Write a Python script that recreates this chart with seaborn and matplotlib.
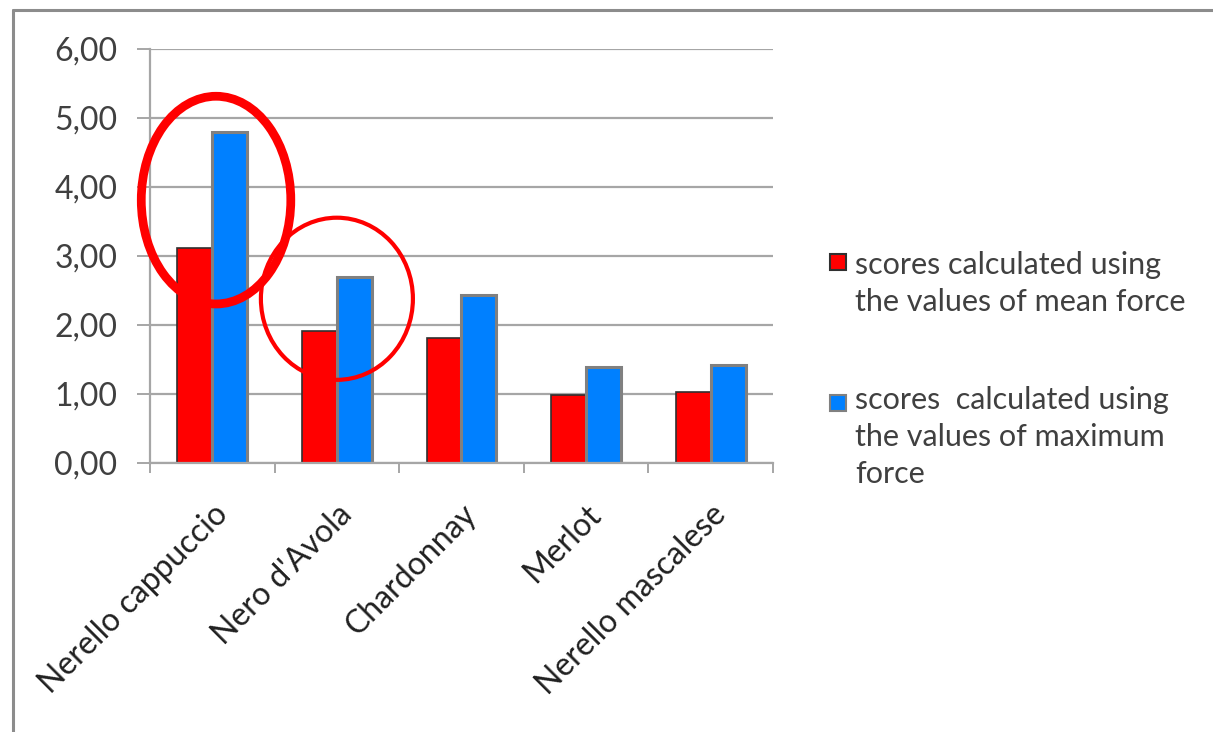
import numpy as np
import pandas as pd
import matplotlib
matplotlib.use("Agg")
import matplotlib.pyplot as plt
from matplotlib.patches import Ellipse, Rectangle
from matplotlib.lines import Line2D
from matplotlib.ticker import FuncFormatter, MultipleLocator
import seaborn as sns

# data
cultivars = ["Nerello cappuccio", "Nero d'Avola", "Chardonnay", "Merlot", "Nerello mascalese"]
mean_force = [3.12, 1.91, 1.81, 0.99, 1.03]
max_force = [4.80, 2.70, 2.43, 1.39, 1.42]
series_labels = ["scores calculated using\nthe values of mean force",
                 "scores  calculated using\nthe values of maximum\nforce"]
colors = ["#FF0000", "#0080FF"]
edge_colors = ["#303030", "#808080"]

df = pd.DataFrame({
    "cultivar": cultivars * 2,
    "score": mean_force + max_force,
    "series": [series_labels[0]] * len(cultivars) + [series_labels[1]] * len(cultivars),
})

sns.set_style("white")
plt.rcParams["font.family"] = ["Lato", "DejaVu Sans"]
text_color = "#404040"
grid_color = "#a6a6a6"
W, H = 1213, 732

fig = plt.figure(figsize=(W / 100, H / 100), dpi=100)
ax = fig.add_axes([150 / W, 1 - 463 / H, (773 - 150) / W, (463 - 49) / H])

sns.barplot(data=df, x="cultivar", y="score", hue="series", order=cultivars,
            hue_order=series_labels, palette=colors, width=0.56, ax=ax,
            legend=False, saturation=1)

# bar edges: dark thin on red, grey thick on blue
for bar in ax.containers[0]:
    bar.set_edgecolor(edge_colors[0])
    bar.set_linewidth(1.2)
for bar in ax.containers[1]:
    bar.set_edgecolor(edge_colors[1])
    bar.set_linewidth(2.2)

ax.set_ylim(0, 6)
ax.set_xlim(-0.5, len(cultivars) - 0.5)
ax.yaxis.set_major_locator(MultipleLocator(1))
ax.yaxis.set_major_formatter(FuncFormatter(lambda v, p: f"{v:.2f}".replace(".", ",")))
ax.grid(axis="y", color=grid_color, linewidth=1.6)
ax.set_axisbelow(True)
ax.set_xlabel("")
ax.set_ylabel("")

for s in ["top", "right"]:
    ax.spines[s].set_visible(False)
for s in ["left", "bottom"]:
    ax.spines[s].set_color(grid_color)
    ax.spines[s].set_linewidth(1.6)

ax.tick_params(axis="y", direction="out", length=9.5, width=1.4, color=grid_color,
               labelsize=23, labelcolor=text_color, pad=14, left=True)
ax.set_xticks(range(len(cultivars)))
ax.set_xticklabels(cultivars, rotation=45, ha="right", rotation_mode="anchor")
ax.tick_params(axis="x", length=0, labelsize=23, labelcolor="#202020", pad=26)
ax.set_xticks(np.arange(-0.5, len(cultivars)), minor=True)
ax.tick_params(axis="x", which="minor", direction="out", length=7.5, width=1.4,
               color=grid_color, bottom=True)

# red hand-drawn highlight ellipses
ax.add_patch(Ellipse((0.03, 3.81), 1.20, 3.01, fill=False, edgecolor="#FF0000",
                     linewidth=6.3, clip_on=False, zorder=5))
ax.add_patch(Ellipse((1.0, 2.38), 1.22, 2.35, fill=False, edgecolor="#FF0000",
                     linewidth=3.0, clip_on=False, zorder=5))

# legend: square aligned with first text line
legend_rows = [(254, 251), (395, 386)]  # square top, text top (px)
for (sq_top, txt_top), lab, fc, ec in zip(legend_rows, series_labels, colors, edge_colors):
    fig.add_artist(Rectangle((830 / W, 1 - (sq_top + 16) / H), 16 / W, 16 / H,
                             facecolor=fc, edgecolor=ec, linewidth=1.5,
                             transform=fig.transFigure))
    fig.text(855 / W, 1 - txt_top / H, lab, fontsize=22, color=text_color,
             va="top", ha="left", linespacing=1.4)

# outer frame (top and left only visible)
fig.add_artist(Line2D([13 / W, 1], [1 - 10 / H] * 2, color="#8c8c8c", linewidth=2.2))
fig.add_artist(Line2D([13 / W] * 2, [0, 1 - 10 / H], color="#8c8c8c", linewidth=2.2))

fig.savefig("out.png", dpi=100)
